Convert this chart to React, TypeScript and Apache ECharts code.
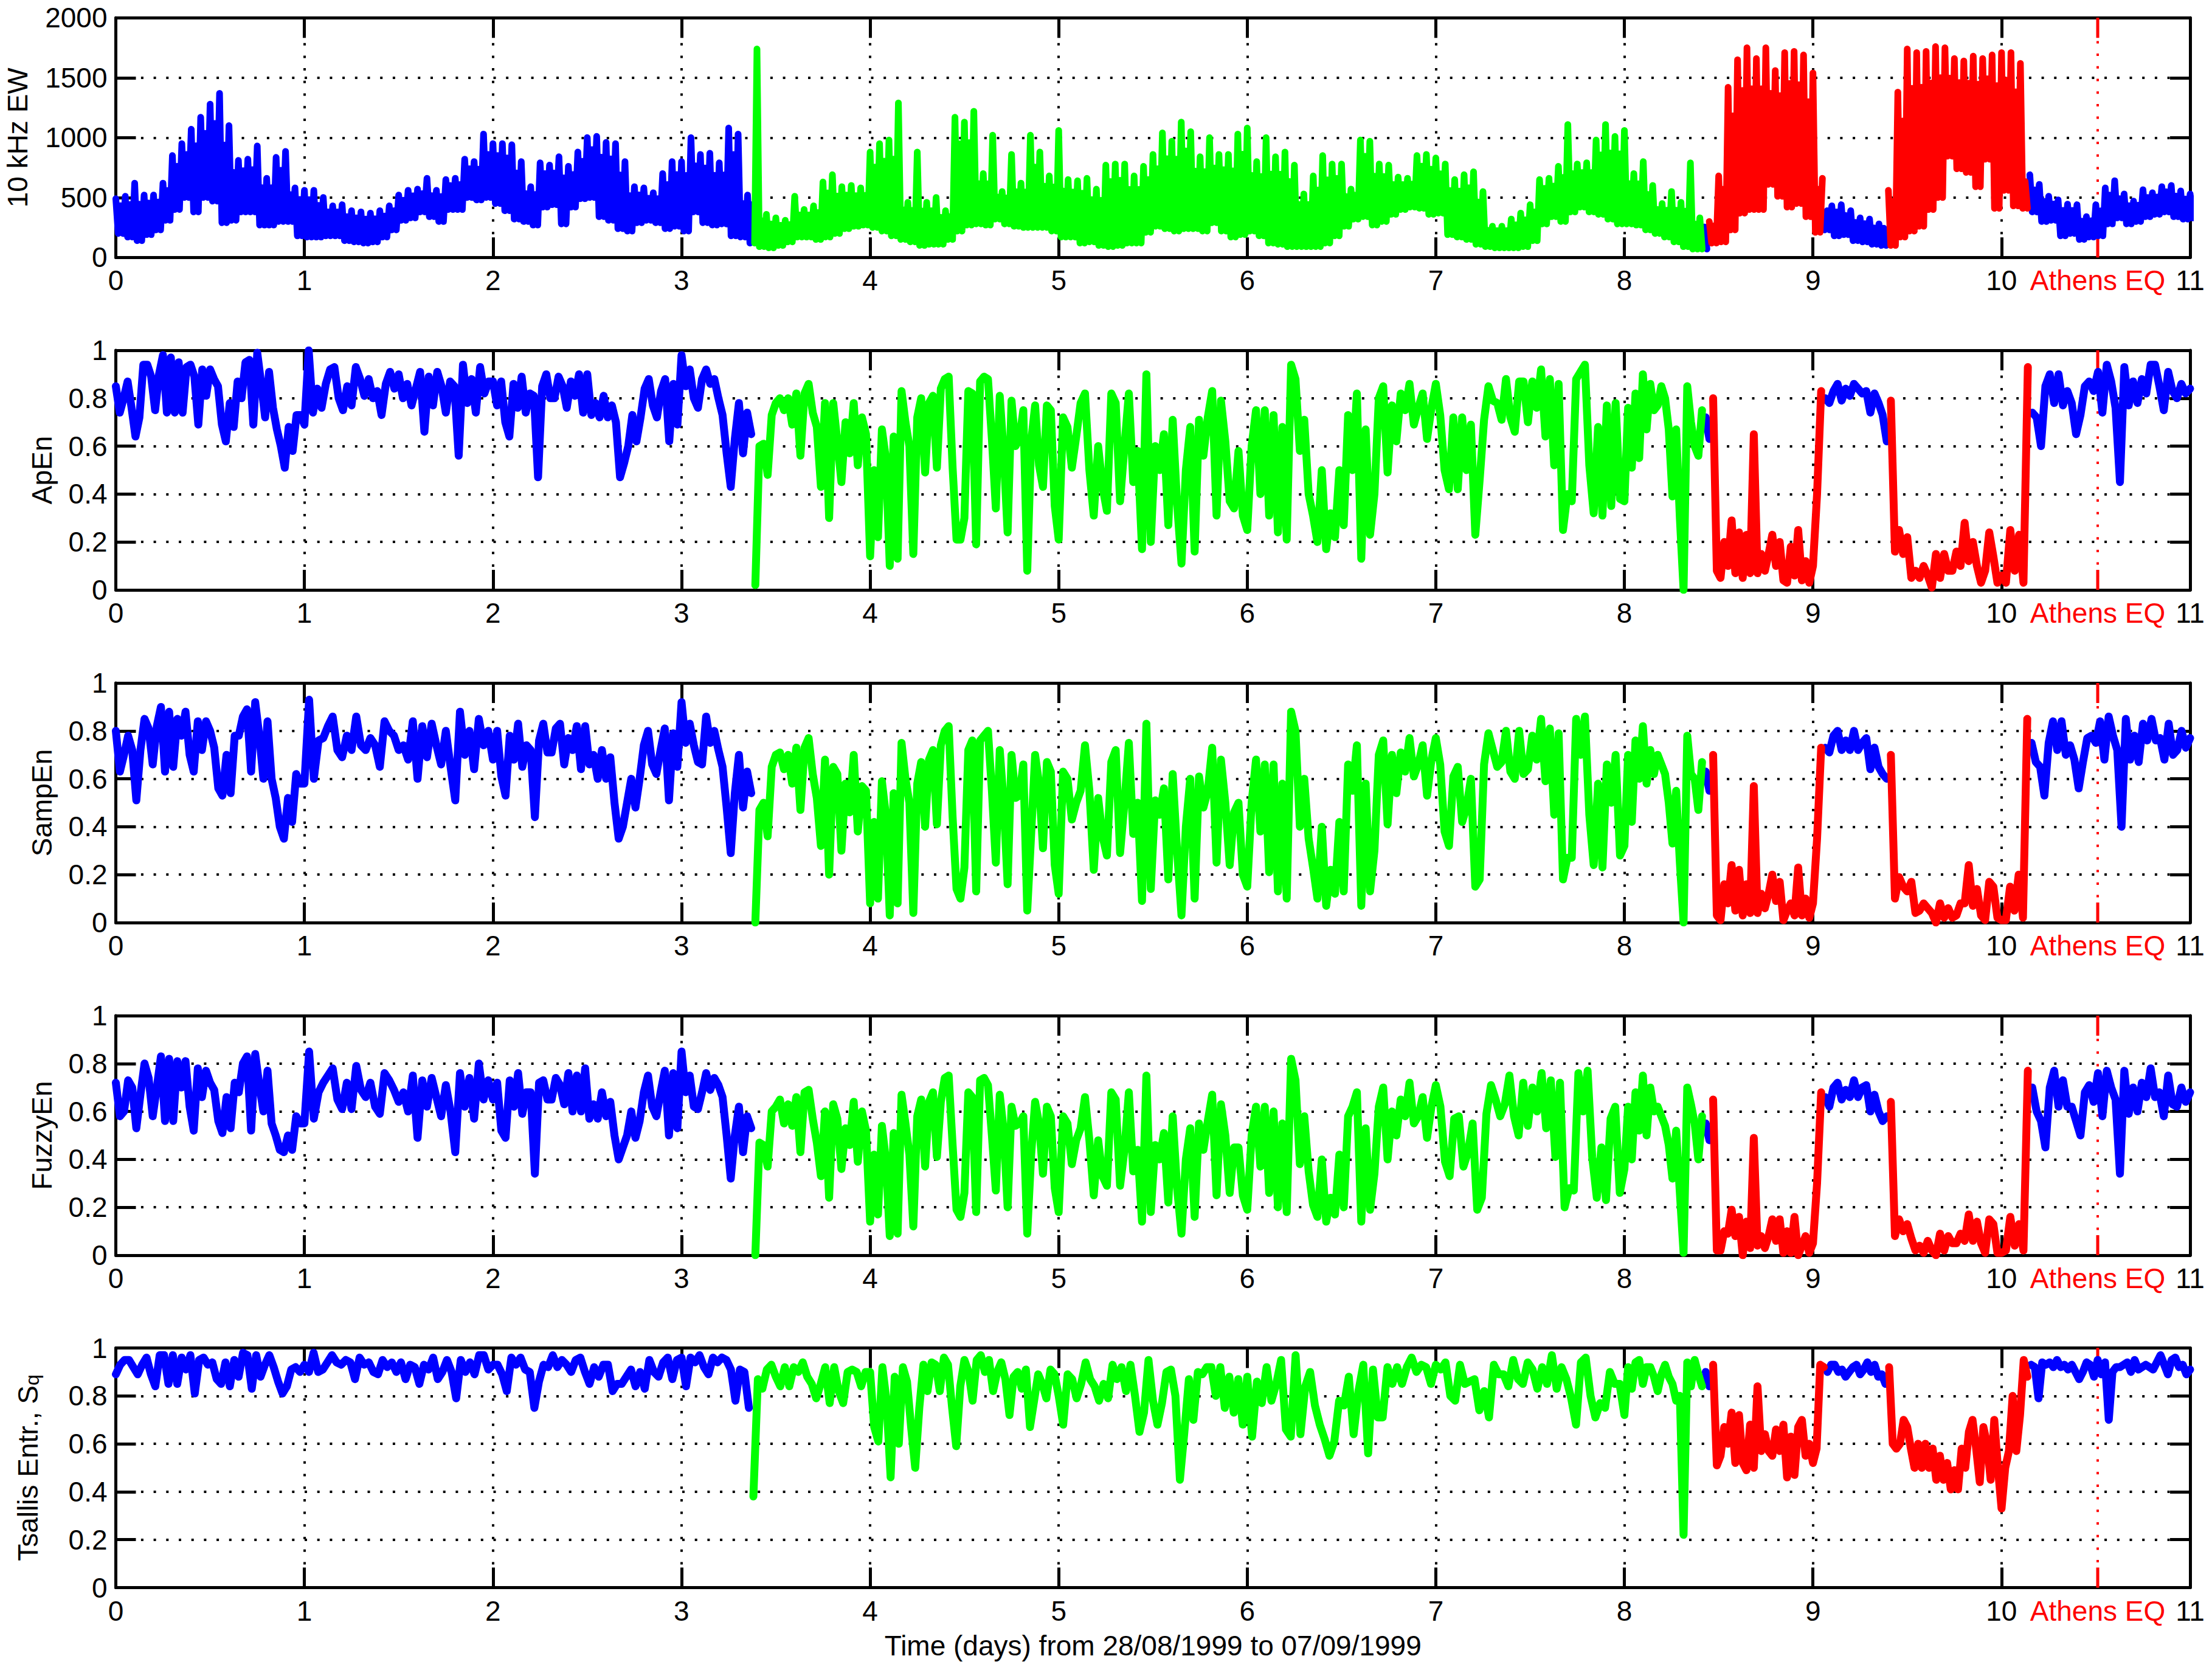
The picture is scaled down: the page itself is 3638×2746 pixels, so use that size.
import React, { useEffect, useRef } from "react";
import * as echarts from "echarts";

// 10 kHz EW envelope, one row per day, 20 samples a day, last row is t = 11
const ewHigh = [
  [490,510,620,520,520,620,850,950,1070,1170,1280,1370,1100,810,820,930,660,835,885,580],
  [560,560,500,430,440,390,380,370,390,430,520,560,570,660,560,650,660,820,800,1030],
  [950,950,940,800,590,790,770,840,760,880,1000,1010,960,950,800,590,580,540,700,800],
  [800,1000,860,870,790,1080,1030,520,1740,360,330,310,510,400,430,630,690,590,600,580],
  [880,950,980,1290,460,880,460,500,390,1170,1130,1220,700,1020,550,860,620,1020,880,680],
  [1060,650,640,660,570,770,780,780,680,760,860,1040,970,1130,1050,840,1000,860,860,1030],
  [1080,800,1000,840,880,770,530,680,850,780,780,570,980,970,780,770,670,660,850,860],
  [830,780,650,690,715,550,260,260,320,370,440,650,660,760,1110,780,790,980,1110,1010],
  [1060,700,800,600,450,550,460,790,330,300,680,1420,1650,1750,1660,1750,1560,1710,1720,1690],
  [1540,660,430,440,390,330,320,280,560,1380,1740,1710,1720,1760,1750,1660,1640,1680,1660,1690],
  [1710,1710,1620,690,610,510,480,445,440,340,440,580,640,530,470,565,540,590,600,555],
  [530],
];
const ewLow = [
  [200,170,140,190,230,310,400,500,380,500,470,290,310,380,380,270,270,300,300,180],
  [170,170,180,180,140,130,120,130,170,230,310,330,380,340,300,400,400,500,480,500],
  [450,390,320,300,270,420,440,280,420,490,500,340,310,240,220,290,310,290,240,260],
  [220,380,290,270,280,180,170,120,90,80,100,130,170,170,150,170,200,240,260,270],
  [250,220,180,150,130,100,110,110,150,220,270,280,270,320,280,260,250,250,250,220],
  [170,170,120,130,100,90,100,120,120,210,260,240,220,240,240,220,290,220,170,190],
  [220,180,120,110,90,90,90,90,120,180,260,320,340,270,300,360,400,420,410,360],
  [370,190,170,150,110,90,80,80,80,90,140,280,340,300,380,420,380,360,320,280],
  [280,270,230,200,170,130,90,70,70,120,130,230,370,400,400,610,510,420,450,340],
  [210,230,180,190,140,130,110,100,100,170,220,260,400,500,845,740,710,590,820,410],
  [560,430,410,380,300,310,180,200,150,170,180,280,330,280,300,340,360,380,340,320],
  [330],
];

// entropies in percent, one row per day
const apEn = [
  [85,74,80,87,76,64,72,94,94,89,75,90,98,74,97,74,95,74,93,94,89,69,92,81,92,88,85,69,62,78,68,87,80,95,96,69,99,86,72,91,76,67,60,51,68,58,73,73],
  [69,100,74,84,76,86,92,93,80,75,85,77,93,88,81,88,80,83,73,86,91,84,90,80,86,77,84,91,66,89,77,91,85,74,87,85,56,94,78,88,74,93,82,87],
  [87,77,87,70,64,86,76,89,74,82,81,47,85,90,80,80,89,85,76,87,81,90,74,90,73,78,72,81,72,77,70,47,53,60,73,62,72,84,88,77,72,83,88,62,86,69],
  [98,85,92,80,76,88,92,86,88,80,73,57,43,63,78,57,74,65,2,60,61,48,73,78,80,75,80,69,82,56,82,86,74,68,43,78,30,78,62,45,70,57,78,52,72,65],
  [14,50,22,67,55,10,64,13,83,70,60,15,72,80,49,78,81,51,84,88,89,51,21,21,30,83,82,19,87,89,88,63,34,81,57,24,79,60,63,75,8,62,77,52,43,77,75,35],
  [21,72,68,51,64,78,82,50,31,60,43,33,82,78,37,60,82,45,58,17,90,20,60,50,65,27,71,36,11,50,68,16,71,56,72,83,31,79,62,37,34,58,31],
  [25,60,75,40,75,31,73,24,68,21,94,88,58,71,40,31,20,50,17,32,22,50,27,73,50,82,13,67,23,40,80,85,49,77,62,82,75,86,69,76,82,63,76],
  [86,73,50,42,72,42,72,50,69,23,46,71,85,79,78,71,88,72,66,87,87,70,87,76,92,64,88,52,86,25,40,37,88,91,94,52,32,68,31,77,35,78,38],
  [37,76,51,82,55,90,67,86,75,77,85,80,67,39,67,30,0,85,70,60,56,75,72,63,80,8,5,20,10,29,7,24,5,23,7,65,7,15,8,15,23,10,20,4,3,18,6,25,4,12,3],
  [10,40,83,80,78,83,86,79,84,81,86,84,82,83,74,82,78,73,62,79,16,25,15,22,5,8,5,10,6,1,15,5,15,8,8,16,10,28,12,20,10,3,8,24,14,3],
  [6,3,25,8,23,3,93,74,72,60,85,90,78,90,77,83,78,65,73,85,87,83,91,74,94,87,76,45,93,77,87,78,88,82,94,94,85,75,91,83,80,86,82],
  [84],
];
const sampEn = [
  [80,63,70,78,72,51,72,85,81,66,82,90,63,88,65,85,78,88,70,63,84,72,84,80,73,56,53,70,54,78,78,86,89,63,92,78,60,84,60,52,40,35,52,42,62,58],
  [58,93,60,76,77,82,86,72,69,78,72,86,74,72,77,74,65,84,80,78,72,74,68,84,60,82,69,83,74,66,80,65,51,88,70,80,64,85,74,80],
  [68,80,61,53,78,68,83,65,74,72,44,76,83,71,71,81,83,66,77,72,82,64,82,66,70,60,72,60,69,50,35,40,50,60,48,60,74,80,66,62,72,81,51,79,65],
  [92,75,83,74,67,66,86,75,80,72,65,48,29,54,70,48,63,54,0,47,50,36,65,70,71,64,70,58,73,47,73,77,62,52,32,68,20,65,62,30,58,46,70,38,57,55],
  [8,42,10,59,45,3,54,8,75,60,50,4,58,67,40,68,72,41,74,80,82,44,14,10,23,72,76,13,76,78,80,55,25,72,50,16,70,52,53,66,5,37,70,58,31,67,63,24],
  [12,63,60,43,50,55,74,55,22,52,36,28,67,72,29,50,75,37,50,9,83,14,51,45,56,18,62,30,3,40,60,10,61,48,55,73,25,68,50,24,46,50,20],
  [15,50,68,38,66,21,66,13,58,10,88,80,40,60,35,23,10,40,7,22,12,42,13,66,55,74,7,58,13,30,70,76,41,70,54,71,63,77,61,66,74,53,68],
  [77,66,38,32,61,65,42,48,60,15,18,66,79,72,65,67,80,63,60,80,62,64,78,68,85,59,81,45,79,18,27,27,85,70,86,45,24,58,23,66,50,70,28],
  [32,70,42,76,60,82,58,72,62,70,66,62,50,33,55,25,0,78,62,60,47,67,63,55,70,3,1,16,8,24,5,22,3,16,4,57,4,12,6,12,20,9,17,1,5,8,3,23,3,10,2],
  [8,35,73,73,71,78,80,72,76,72,80,72,75,77,64,73,65,62,60,70,10,19,15,13,17,4,5,8,6,4,0,8,2,6,2,3,8,8,24,7,14,3,1,17,15,2],
  [1,1,15,5,20,2,85,75,67,65,53,75,84,72,84,70,74,68,56,67,77,78,75,84,68,86,78,72,40,85,68,78,67,83,76,85,76,77,68,83,70,72,80,73],
  [77],
];
const fuzzyEn = [
  [72,58,60,73,70,53,67,80,74,58,70,83,56,82,56,81,70,81,62,52,78,66,77,72,69,56,51,66,53,72,68,80,83,52,84,71,60,77,55,50,44,43,50,44,58,55],
  [55,85,57,68,72,75,78,65,61,72,61,79,69,66,72,62,59,76,73,69,64,68,60,75,49,73,62,74,66,58,71,60,43,76,62,74,57,80,65,73],
  [65,72,52,49,73,62,76,59,68,68,34,72,73,65,65,74,71,63,76,60,75,60,78,57,63,57,68,58,64,50,40,45,50,60,49,56,68,75,62,58,68,77,50,76,53],
  [85,68,75,62,61,68,76,69,74,71,66,50,32,50,62,43,58,53,0,47,46,37,60,62,65,55,63,54,66,43,68,69,57,47,33,60,24,63,57,36,53,46,64,39,60,52],
  [14,42,17,54,40,8,51,9,67,55,42,12,58,65,37,64,68,41,64,74,75,46,19,16,26,68,66,18,73,74,71,50,27,67,52,20,62,54,55,58,9,42,64,55,34,62,58,28],
  [18,58,55,38,48,53,66,48,25,48,33,29,68,65,29,44,68,35,44,14,75,18,46,40,51,22,58,28,9,40,53,16,55,44,56,67,25,63,50,26,45,45,25],
  [19,50,62,37,62,26,60,20,55,18,82,73,38,58,35,21,16,40,14,24,17,42,20,58,62,68,14,53,19,34,62,70,40,60,50,65,58,72,55,58,66,49,62],
  [71,62,39,33,57,58,37,43,55,19,24,59,71,65,58,63,75,58,50,72,54,70,60,76,53,73,41,72,20,28,27,76,60,77,41,24,45,23,57,62,26],
  [36,62,40,68,52,75,50,70,60,62,58,54,46,32,52,26,1,70,63,55,40,58,55,48,65,2,2,10,9,19,8,16,0,14,3,49,4,8,3,8,15,6,15,1,10,1,16,0,4,8,1],
  [5,30,68,66,62,70,72,65,69,66,73,66,70,71,60,67,60,56,58,64,8,15,10,13,7,2,4,1,6,2,0,9,2,8,5,5,9,6,17,6,14,5,1,15,13,1],
  [1,2,16,4,13,2,77,70,60,56,45,70,77,62,73,62,62,56,50,68,71,64,76,58,77,70,65,34,77,59,70,60,72,66,78,66,68,58,75,63,62,70,64],
  [68],
];
const tsallis = [
  [89,93,95,95,92,89,93,96,89,84,97,97,85,97,85,96,91,97,81,95,96,93,94,87,85,94,84,95,88,98,97,83,97,88,93,97,92,86,81,84,91,92,90],
  [93,90,98,90,91,94,97,94,93,95,94,87,96,93,94,90,89,95,92,94,90,94,87,93,92,85,93,91,96,87,90,95,90,79,95,90,94,89,97,97,91],
  [93,93,89,82,96,93,96,91,90,75,86,93,92,97,92,95,93,90,95,96,90,85,92,88,93,93,82,85,85,88,91,84,90,83,95,90,88,94,96,87,95],
  [96,84,96,94,97,92,89,96,94,96,95,91,78,91,90,75,38,87,83,91,93,88,84,92,84,92,90,94,88,85,79,85,92,77,92,82,77,90,91,90,84,90],
  [90,67,61,92,78,46,88,60,92,86,67,50,75,93,82,94,93,82,96,93,75,59,84,95,90,78,95,97,90,95,82,90,94,87,72,88,90,83,91,67,78,89,85,79,91,89],
  [80,68,89,87,79,85,94,87,84,78,85,79,93,87,92,82,93,80,65,73,95,78,68,77,90,91,80,45,65,87,70,90,89,92,92,80,92,75,88,73,87,68],
  [88,63,86,77,92,78,85,95,66,63,97,64,84,90,76,68,62,55,61,78,76,88,64,82,93,56,91,71,71,92,85,92,85,92,96,90,93,92,85],
  [93,91,94,80,78,93,85,86,87,74,82,71,93,89,89,84,95,87,85,94,91,83,92,85,97,83,92,87,79,68,94,96,80,71,77,75,90,85,85],
  [72,92,83,94,95,85,92,92,88,82,89,93,88,85,78,80,22,94,84,95,89,84,90,84,93,51,55,67,60,73,52,72,52,49,68,50,84,57,64,57,55,66,57,68,46,63,47,67,70,55,60],
  [52,58,93,92,90,93,93,90,91,88,90,92,93,89,91,94,90,93,88,89,85,92,60,58,60,70,67,58,50,60,50,60,50,58,45,55,45,52,41,49,41,58,50,65,70,58,44,67,60,45,70,50],
  [33,50,57,80,57,72,95,88,93,92,79,94,93,94,92,95,92,93,91,93,90,87,90,94,93,88,95,89,94,70,90,92,92,93,94,90,95,91,92,93,92,91,94,97,93,89,95,96,92,93,89],
  [91],
];

const athensDay = 10.51;
const xLabelValues = [0, 1, 2, 3, 4, 5, 6, 7, 8, 9, 10, athensDay, 11];
const xTickValues = [0, 1, 2, 3, 4, 5, 6, 7, 8, 9, 10, 11];

// colour of each stretch of the record, and the days where it changes
const stretchColors = ["#0000ff", "#00ff00", "#0000ff", "#ff0000", "#0000ff", "#ff0000", "#0000ff"];
const ewCuts = [3.38, 8.42, 8.44, 9.06, 9.39, 10.14];
const entropyCuts = [3.38, 8.43, 8.465, 9.06, 9.4, 10.145];

type Pt = [number, number];

const entropyPoints = (rows: number[][]): Pt[] =>
  rows.flatMap((row, d) => row.map((v, i): Pt => [d + i / row.length, v / 100]));

// the 10 kHz signal swings between its envelopes too fast to see, so the line
// goes up and down twice per sample: that fills the band but keeps single peaks thin
const envelopePoints = (hi: number[][], lo: number[][]): Pt[] => {
  const flatHi = hi.flat();
  return hi.flatMap((row, d) =>
    row.flatMap((v, i): Pt[] => {
      const t = d + i / 20;
      const k = d * 20 + i;
      const next = flatHi[k + 1] ?? v;
      const low = lo[d][i];
      return [
        [t, v],
        [t + 0.0125, low],
        [t + 0.025, low + 0.8 * (Math.min(v, next) - low)],
        [t + 0.0375, low],
      ];
    })
  );
};

const panels = [
  { name: "10 kHz EW", max: 2000, interval: 500, gap: 139, pts: envelopePoints(ewHigh, ewLow), cuts: ewCuts },
  { name: "ApEn", max: 1, interval: 0.2, gap: 99, pts: entropyPoints(apEn), cuts: entropyCuts },
  { name: "SampEn", max: 1, interval: 0.2, gap: 99, pts: entropyPoints(sampEn), cuts: entropyCuts },
  { name: "FuzzyEn", max: 1, interval: 0.2, gap: 99, pts: entropyPoints(fuzzyEn), cuts: entropyCuts },
  { name: "{a|Tsallis Entr., S}{s|q}", max: 1, interval: 0.2, gap: 122, pts: entropyPoints(tsallis), cuts: entropyCuts },
];

const gridTops = [29.3, 576, 1123, 1670, 2216.5];
const plotHeight = 394;
const tickLen = 33;
const font = "Liberation Sans";
const fontSize = 46;
const dots = { color: "#000", width: 4, type: [4, 16.7] };

const App = () => {
  const chartRef = useRef<HTMLDivElement>(null);

  useEffect(() => {
    if (!chartRef.current) return;
    const chart = echarts.init(chartRef.current, undefined, { renderer: "svg" });

    const axisLine = { show: true, onZero: false, lineStyle: { color: "#000", width: 5 } };
    const axisTick = { show: true, inside: true, length: tickLen, lineStyle: { color: "#000", width: 5 } };

    const grid: any[] = [];
    const xAxis: any[] = [];
    const yAxis: any[] = [];
    const series: any[] = [];

    panels.forEach((p, n) => {
      grid.push({ left: 190.5, width: 3411.5, top: gridTops[n], height: plotHeight, outerBoundsMode: "none" });
      const isLast = n === panels.length - 1;

      xAxis.push({
        gridIndex: n,
        type: "value",
        min: 0,
        max: 11,
        interval: 1,
        position: "bottom",
        axisLine,
        axisTick: { ...axisTick, customValues: xTickValues },
        splitLine: { show: true, lineStyle: dots },
        axisLabel: {
          margin: 15,
          color: "#000",
          fontFamily: font,
          fontSize,
          customValues: xLabelValues,
          hideOverlap: false,
          formatter: (v: number) => (v === athensDay ? "{eq|Athens EQ}" : String(v)),
          rich: { eq: { color: "#ff0000", fontFamily: font, fontSize } },
        },
        name: isLast ? "Time (days) from 28/08/1999 to 07/09/1999" : "",
        nameLocation: "middle",
        nameGap: 72,
        nameTextStyle: { color: "#000", fontFamily: font, fontSize },
      });
      xAxis.push({
        gridIndex: n,
        type: "value",
        min: 0,
        max: 11,
        interval: 1,
        position: "top",
        axisLine,
        axisTick,
        axisLabel: { show: false },
        splitLine: { show: false },
      });

      yAxis.push({
        gridIndex: n,
        type: "value",
        min: 0,
        max: p.max,
        interval: p.interval,
        position: "left",
        axisLine,
        axisTick,
        splitLine: { show: true, lineStyle: dots },
        axisLabel: {
          margin: 14,
          color: "#000",
          fontFamily: font,
          fontSize,
          formatter: (v: number) => String(v),
        },
        name: p.name,
        nameLocation: "middle",
        nameRotate: 90,
        nameGap: p.gap,
        nameTextStyle: {
          color: "#000",
          fontFamily: font,
          fontSize,
          rich: {
            a: { fontFamily: font, fontSize, color: "#000" },
            s: { fontFamily: font, fontSize: 32, color: "#000", verticalAlign: "bottom", padding: [14, 0, 0, 0] },
          },
        },
      });
      yAxis.push({
        gridIndex: n,
        type: "value",
        min: 0,
        max: p.max,
        interval: p.interval,
        position: "right",
        axisLine,
        axisTick,
        axisLabel: { show: false },
        splitLine: { show: false },
      });

      const xAxisIndex = n * 2;
      const yAxisIndex = n * 2;
      const tickSpan = (p.max * tickLen) / plotHeight;
      const eqLine = (data: number[][], type: any, width: number) => ({
        type: "line",
        xAxisIndex,
        yAxisIndex,
        showSymbol: false,
        data,
        lineStyle: { color: "#ff0000", width, type },
      });
      series.push(eqLine([[athensDay, 0], [athensDay, p.max]], [4, 16.7], 4));
      series.push(eqLine([[athensDay, 0], [athensDay, tickSpan]], "solid", 5));
      series.push(eqLine([[athensDay, p.max - tickSpan], [athensDay, p.max]], "solid", 5));

      const stretches = stretchColors.map((color, s) => ({
        color,
        data: p.pts.filter(
          (pt) => pt[0] >= (s === 0 ? -1 : p.cuts[s - 1]) && pt[0] < (s === p.cuts.length ? 99 : p.cuts[s])
        ),
      }));
      // blue goes under green and red
      [...stretches]
        .sort((a, b) => Number(b.color === "#0000ff") - Number(a.color === "#0000ff"))
        .forEach((st) => {
          series.push({
            type: "line",
            xAxisIndex,
            yAxisIndex,
            showSymbol: false,
            clip: true,
            data: st.data,
            lineStyle: { color: st.color, width: n === 0 ? 11 : 13, join: "round", cap: "round" },
          });
        });
    });

    chart.setOption({
      animation: false,
      backgroundColor: "#fff",
      grid,
      xAxis,
      yAxis,
      series,
    });

    return () => {
      chart.dispose();
    };
  }, []);

  return <div ref={chartRef} style={{ position: "fixed", left: 0, top: 0, width: 3638, height: 2746 }} />;
};

export default App;
